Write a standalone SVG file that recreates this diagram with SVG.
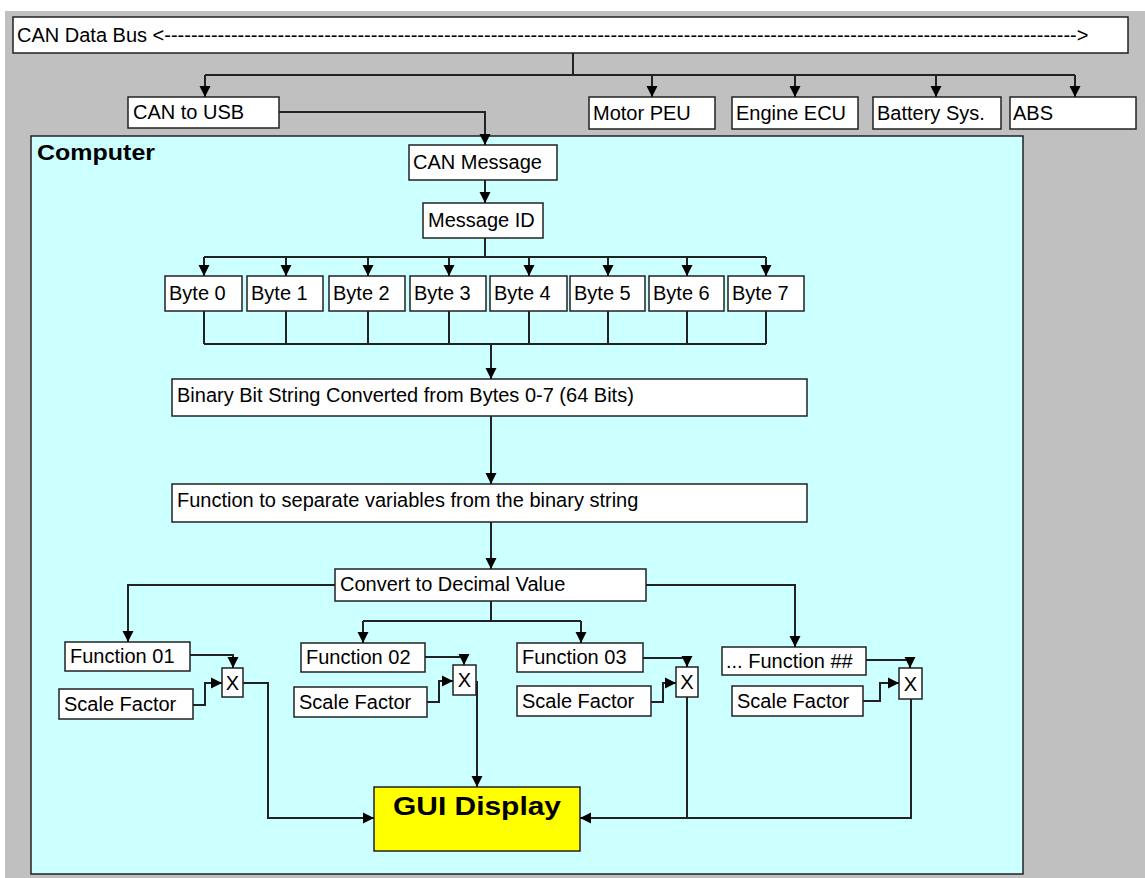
<svg xmlns="http://www.w3.org/2000/svg" width="1145" height="878" viewBox="0 0 1145 878">
<style>
.bx{fill:#fff;stroke:#222;stroke-width:1.5}
.t{font-family:"Liberation Sans",Arial,sans-serif;font-size:20px;fill:#000}
.c{fill:none;stroke:#222;stroke-width:2}
</style>
<defs>
<marker id="ah" markerUnits="userSpaceOnUse" markerWidth="12" markerHeight="12" refX="11" refY="6" orient="auto">
<path d="M0,0.5 L11,6 L0,11.5 z" fill="#000"/>
</marker>
</defs>
<rect x="0" y="0" width="1145" height="878" fill="#fff"/>
<rect x="5" y="11" width="1140" height="867" fill="#C0C0C0"/>

<g id="bus"><rect class="bx" x="13" y="17" width="1115" height="36"/>
<text class="t" x="17" y="42">CAN Data Bus &lt;-----------------------------------------------------------------------------------------------------------------------------------------&gt;</text></g>
<g id="canusb"><rect class="bx" x="128" y="97" width="151" height="31"/><text class="t" x="133" y="119">CAN to USB</text></g>
<g id="motor"><rect class="bx" x="589" y="97" width="126" height="32"/><text class="t" x="593" y="120">Motor PEU</text></g>
<g id="engine"><rect class="bx" x="732" y="97" width="126" height="32"/><text class="t" x="736" y="120">Engine ECU</text></g>
<g id="battery"><rect class="bx" x="873" y="97" width="128" height="32"/><text class="t" x="877" y="120">Battery Sys.</text></g>
<g id="abs"><rect class="bx" x="1010" y="97" width="126" height="32"/><text class="t" x="1013" y="120">ABS</text></g>

<g id="computer"><rect x="31" y="136" width="992" height="738" fill="#CCFFFF" stroke="#222" stroke-width="1.5"/>
<text x="37" y="160" font-family="Liberation Sans,Arial,sans-serif" font-size="22" font-weight="bold" textLength="118" lengthAdjust="spacingAndGlyphs">Computer</text></g>

<g id="canmsg"><rect class="bx" x="409" y="145" width="148" height="35"/><text class="t" x="413" y="169">CAN Message</text></g>
<g id="msgid"><rect class="bx" x="423" y="203" width="120" height="35"/><text class="t" x="428" y="227">Message ID</text></g>

<g id="byte0"><rect class="bx" x="165" y="276" width="77" height="35"/><text class="t" x="169" y="300">Byte 0</text></g>
<g id="byte1"><rect class="bx" x="247" y="276" width="76" height="35"/><text class="t" x="251" y="300">Byte 1</text></g>
<g id="byte2"><rect class="bx" x="329" y="276" width="76" height="35"/><text class="t" x="333" y="300">Byte 2</text></g>
<g id="byte3"><rect class="bx" x="410" y="276" width="76" height="35"/><text class="t" x="414" y="300">Byte 3</text></g>
<g id="byte4"><rect class="bx" x="490" y="276" width="77" height="35"/><text class="t" x="494" y="300">Byte 4</text></g>
<g id="byte5"><rect class="bx" x="570" y="276" width="75" height="35"/><text class="t" x="574" y="300">Byte 5</text></g>
<g id="byte6"><rect class="bx" x="649" y="276" width="75" height="35"/><text class="t" x="653" y="300">Byte 6</text></g>
<g id="byte7"><rect class="bx" x="728" y="276" width="76" height="35"/><text class="t" x="732" y="300">Byte 7</text></g>

<g id="binary"><rect class="bx" x="172" y="379" width="635" height="37"/><text class="t" x="177" y="402">Binary Bit String Converted from Bytes 0-7 (64 Bits)</text></g>
<g id="separate"><rect class="bx" x="172" y="484" width="635" height="38"/><text class="t" x="177" y="507">Function to separate variables from the binary string</text></g>
<g id="convert"><rect class="bx" x="335" y="569" width="311" height="32"/><text class="t" x="340" y="591">Convert to Decimal Value</text></g>

<g id="f1"><rect class="bx" x="65" y="642" width="125" height="29"/><text class="t" x="70" y="663">Function 01</text></g>
<g id="f2"><rect class="bx" x="301" y="643" width="124" height="29"/><text class="t" x="306" y="664">Function 02</text></g>
<g id="f3"><rect class="bx" x="517" y="643" width="126" height="29"/><text class="t" x="522" y="664">Function 03</text></g>
<g id="fn"><rect class="bx" x="722" y="647" width="144" height="28"/><text class="t" x="726" y="668">... Function ##</text></g>

<g id="sf1"><rect class="bx" x="59" y="689" width="134" height="30"/><text class="t" x="64" y="711">Scale Factor</text></g>
<g id="sf2"><rect class="bx" x="294" y="687" width="133" height="30"/><text class="t" x="299" y="709">Scale Factor</text></g>
<g id="sf3"><rect class="bx" x="517" y="686" width="134" height="30"/><text class="t" x="522" y="708">Scale Factor</text></g>
<g id="sf4"><rect class="bx" x="732" y="686" width="131" height="30"/><text class="t" x="737" y="708">Scale Factor</text></g>

<g id="x1"><rect class="bx" x="222" y="668" width="21" height="29"/><text class="t" x="232.5" y="690" text-anchor="middle">X</text></g>
<g id="x2"><rect class="bx" x="453" y="665" width="23" height="30"/><text class="t" x="464.5" y="687" text-anchor="middle">X</text></g>
<g id="x3"><rect class="bx" x="676" y="667" width="22" height="30"/><text class="t" x="687" y="689" text-anchor="middle">X</text></g>
<g id="x4"><rect class="bx" x="899" y="668" width="23" height="31"/><text class="t" x="910.5" y="691" text-anchor="middle">X</text></g>

<g id="gui"><rect x="374" y="787" width="206" height="64" fill="#FFFF00" stroke="#222" stroke-width="1.5"/>
<text x="477" y="815" text-anchor="middle" font-family="Liberation Sans,Arial,sans-serif" font-size="26" font-weight="bold" textLength="168" lengthAdjust="spacingAndGlyphs">GUI Display</text></g>

<g id="connectors">
<path class="c" d="M573,53 V75"/>
<path class="c" d="M205,75 H1075"/>
<path class="c" d="M205,75 V97" marker-end="url(#ah)"/>
<path class="c" d="M652,75 V97" marker-end="url(#ah)"/>
<path class="c" d="M795,75 V97" marker-end="url(#ah)"/>
<path class="c" d="M936,75 V97" marker-end="url(#ah)"/>
<path class="c" d="M1075,75 V97" marker-end="url(#ah)"/>
<path class="c" d="M279,112 H485 V145" marker-end="url(#ah)"/>
<path class="c" d="M485,180 V203" marker-end="url(#ah)"/>
<path class="c" d="M485,238 V257"/>
<path class="c" d="M204,257 H766"/>
<path class="c" d="M204,257 V276" marker-end="url(#ah)"/>
<path class="c" d="M286,257 V276" marker-end="url(#ah)"/>
<path class="c" d="M368,257 V276" marker-end="url(#ah)"/>
<path class="c" d="M449,257 V276" marker-end="url(#ah)"/>
<path class="c" d="M529,257 V276" marker-end="url(#ah)"/>
<path class="c" d="M608,257 V276" marker-end="url(#ah)"/>
<path class="c" d="M687,257 V276" marker-end="url(#ah)"/>
<path class="c" d="M766,257 V276" marker-end="url(#ah)"/>
<path class="c" d="M204,311 V344 M286,311 V344 M368,311 V344 M449,311 V344 M529,311 V344 M608,311 V344 M687,311 V344 M766,311 V344 M204,344 H766"/>
<path class="c" d="M491,344 V379" marker-end="url(#ah)"/>
<path class="c" d="M491,416 V484" marker-end="url(#ah)"/>
<path class="c" d="M491,522 V569" marker-end="url(#ah)"/>
<path class="c" d="M335,585 H128 V642" marker-end="url(#ah)"/>
<path class="c" d="M646,585 H795 V647" marker-end="url(#ah)"/>
<path class="c" d="M491,601 V621 M363,621 H581"/>
<path class="c" d="M363,621 V643" marker-end="url(#ah)"/>
<path class="c" d="M581,621 V643" marker-end="url(#ah)"/>
<path class="c" d="M190,655 H233 V668" marker-end="url(#ah)"/>
<path class="c" d="M193,705 H205 V683 H222" marker-end="url(#ah)"/>
<path class="c" d="M243,683 H268 V818 H374" marker-end="url(#ah)"/>
<path class="c" d="M425,657 H464 V665" marker-end="url(#ah)"/>
<path class="c" d="M427,702 H439 V681 H453" marker-end="url(#ah)"/>
<path class="c" d="M477,681 V787" marker-end="url(#ah)"/>
<path class="c" d="M643,658 H687 V667" marker-end="url(#ah)"/>
<path class="c" d="M651,702 H663 V683 H676" marker-end="url(#ah)"/>
<path class="c" d="M687,697 V818"/>
<path class="c" d="M866,660 H910 V668" marker-end="url(#ah)"/>
<path class="c" d="M863,701 H880 V683 H899" marker-end="url(#ah)"/>
<path class="c" d="M911,699 V818 H580" marker-end="url(#ah)"/>
</g>
</svg>
